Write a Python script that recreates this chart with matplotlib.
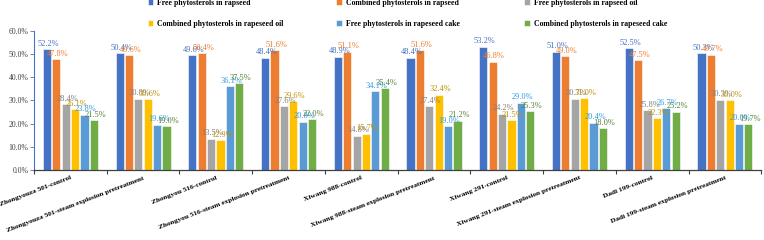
import numpy as np
import matplotlib
matplotlib.use("Agg")
import matplotlib.pyplot as plt
import matplotlib.transforms as mtransforms

plt.rcParams['font.family'] = ['Liberation Serif', 'DejaVu Serif']

groups = [
    "Zhongyouza 501-control",
    "Zhongyouza 501-steam explosion pretreatment",
    "Zhongyou 516-control",
    "Zhongyou 516-steam explosion pretreatment",
    "Xiwang 988-control",
    "Xiwang 988-steam explosion pretreatment",
    "Xiwang 291-control",
    "Xiwang 291-steam explosion pretreatment",
    "Dadi 199-control",
    "Dadi 199-steam explosion pretreatment",
]

series_names = [
    "Free phytosterols in rapseed",
    "Combined phytosterols in rapseed",
    "Free phytosterols in rapseed oil",
    "Combined phytosterols in rapeseed oil",
    "Free phytosterols in rapeseed cake",
    "Combined phytosterols in rapeseed cake",
]

free_seed = [52.2, 50.4, 49.6, 48.4, 48.9, 48.4, 53.2, 51.0, 52.5, 50.3]
comb_seed = [47.8, 49.6, 50.4, 51.6, 51.1, 51.6, 46.8, 49.0, 47.5, 49.7]
free_oil = [28.4, 30.8, 13.5, 27.6, 14.8, 27.4, 24.2, 30.7, 25.8, 30.3]
comb_oil = [26.1, 30.6, 12.9, 29.6, 15.7, 32.4, 21.5, 31.0, 22.3, 30.0]
free_cake = [23.8, 19.6, 36.1, 20.8, 34.1, 19.0, 29.0, 20.4, 26.7, 20.0]
comb_cake = [21.5, 19.0, 37.5, 22.0, 35.4, 21.2, 25.3, 18.0, 25.2, 19.7]

series = [free_seed, comb_seed, free_oil, comb_oil, free_cake, comb_cake]
colors = ['#4472C4', '#ED7D31', '#A5A5A5', '#FFC000', '#5B9BD5', '#70AD47']
label_colors = ['#4472C4', '#ED7D31', '#7F7F7F', '#BF9000', '#2F9BEA', '#548235']

fig = plt.figure(figsize=(7.64, 2.4), dpi=100)
ax = fig.add_axes([0.0445, 0.292, 0.952, 0.579])

x = np.arange(len(groups))
width = 0.112
step = 0.129
handles = []
for i, (vals, c, lc) in enumerate(zip(series, colors, label_colors)):
    pos = x + (i - 2.5) * step
    b = ax.bar(pos, vals, width, color=c, edgecolor='white', linewidth=0.4)
    handles.append(b)
    for p, v in zip(pos, vals):
        ax.text(p + 0.02, v + 0.6, f"{v:.1f}%", ha='center', va='bottom',
                fontsize=6, color=lc)

ax.set_xlim(-0.5, len(groups) - 0.5)
ax.set_ylim(0, 60)
ax.set_yticks(np.arange(0, 61, 10))
ax.set_yticklabels([f"{t:.1f}%" for t in np.arange(0, 61, 10)], fontsize=5.6, color='#404040')
ax.set_xticks(np.arange(-0.5, len(groups)), minor=False)
ax.set_xticklabels([])
ax.set_xticks(x, minor=True)
ax.set_xticklabels(groups, minor=True, rotation=21, ha='right', va='top',
                   rotation_mode='anchor', fontsize=5.3, fontweight='bold')
shift = mtransforms.ScaledTranslation(3 / 100, 0, fig.dpi_scale_trans)
for lbl in ax.get_xticklabels(minor=True):
    lbl.set_transform(lbl.get_transform() + shift)
ax.tick_params(axis='x', which='minor', length=0, pad=4)
ax.tick_params(axis='x', which='major', length=3, width=0.8, color='#404040')
ax.tick_params(axis='y', length=3, width=0.6, color='#4472C4', pad=1)

for s in ['top', 'right']:
    ax.spines[s].set_visible(False)
ax.spines['left'].set_color('#4472C4')
ax.spines['left'].set_linewidth(0.8)
ax.spines['bottom'].set_color('#404040')
ax.spines['bottom'].set_linewidth(0.9)

leg_x = [0.192, 0.439, 0.685]
for k in range(3):
    idx = [k, k + 3]
    fig.legend([handles[j] for j in idx], [series_names[j] for j in idx],
               loc='upper left', bbox_to_anchor=(leg_x[k] - 0.008, 1.035),
               frameon=False, ncol=1, handlelength=0.7, handleheight=0.7,
               handletextpad=0.5, labelspacing=1.7,
               prop={'family': 'Liberation Serif', 'weight': 'bold', 'size': 5.6})

fig.savefig("out.png", dpi=100)
